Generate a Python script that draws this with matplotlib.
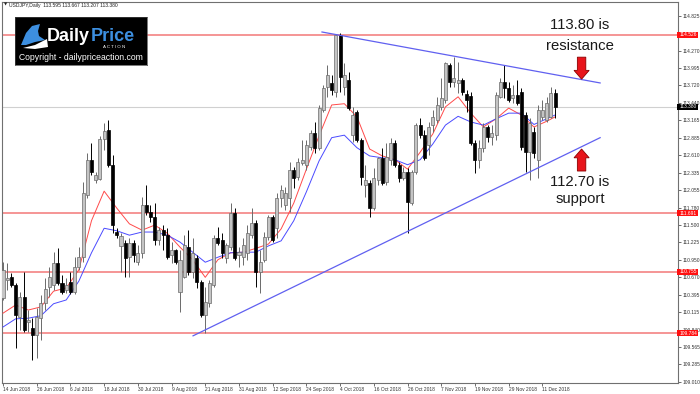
import matplotlib
matplotlib.use("Agg")
import matplotlib.pyplot as plt
from matplotlib.patches import FancyArrow, Rectangle, Polygon

plt.rcParams['font.family'] = ['Liberation Sans', 'DejaVu Sans']

# -----------------------------
# Daily USDJPY candles (14 Jun 2018 - 14 Dec 2018)
# -----------------------------
opens = [110.34, 110.63, 110.68, 110.55, 110.04, 110.36, 109.96, 109.86, 109.75, 110.02,
         110.26, 110.51, 110.55, 110.90, 110.58, 110.47, 110.60, 110.44, 110.83, 110.99,
         111.98, 112.53, 112.22, 112.24, 112.87, 113.01, 112.46, 111.39, 111.17, 111.22,
         110.99, 111.22, 110.91, 111.06, 111.82, 111.71, 111.63, 111.26, 111.42, 111.34,
         111.03, 111.10, 110.44, 110.67, 111.15, 110.76, 110.98, 110.60, 110.07, 110.26,
         110.55, 111.30, 111.26, 110.98, 111.15, 111.69, 111.03, 110.99, 111.06, 111.34,
         111.53, 110.76, 110.95, 111.31, 111.63, 111.45, 111.93, 111.82, 111.93, 112.38,
         112.27, 112.49, 112.46, 112.74, 112.96, 112.72, 113.33, 113.70, 113.76, 113.62,
         114.52, 113.70, 113.81, 112.93, 113.30, 112.85, 112.14, 112.17, 111.77, 112.22,
         112.57, 112.19, 112.54, 112.81, 112.46, 112.25, 112.34, 111.85, 112.34, 113.09,
         112.93, 112.77, 113.09, 113.17, 113.38, 113.49, 114.05, 113.78, 113.76, 113.81,
         113.58, 113.55, 112.81, 112.54, 112.73, 113.06, 112.90, 112.93, 113.54, 113.78,
         113.68, 113.52, 113.57, 113.62, 113.25, 112.66, 112.98, 112.54, 113.22, 113.17,
         113.22, 113.595]
highs = [110.91, 110.90, 110.74, 110.58, 110.44, 110.76, 110.15, 110.02, 110.18, 110.39,
         110.66, 110.83, 111.07, 111.13, 110.71, 110.66, 110.76, 110.99, 111.15, 112.18,
         112.64, 112.81, 112.35, 112.92, 113.13, 113.17, 112.62, 111.45, 111.37, 111.26,
         111.30, 111.26, 111.18, 111.95, 112.14, 111.82, 111.85, 111.47, 111.50, 111.45,
         111.23, 111.12, 111.10, 111.34, 111.42, 111.30, 111.03, 110.63, 110.52, 110.63,
         111.34, 111.47, 111.37, 111.22, 111.85, 111.77, 111.15, 111.30, 111.50, 111.77,
         111.58, 111.10, 111.39, 111.66, 111.66, 112.01, 112.14, 112.11, 112.50, 112.42,
         112.57, 112.85, 112.85, 113.01, 113.14, 113.41, 113.73, 114.05, 113.89, 114.54,
         114.55, 114.08, 113.94, 113.38, 113.33, 112.88, 112.46, 112.22, 112.41, 112.58,
         112.73, 112.81, 112.88, 112.85, 112.50, 112.42, 112.41, 112.38, 113.12, 113.20,
         113.01, 113.14, 113.33, 113.54, 113.84, 114.09, 114.08, 114.17, 114.09, 113.84,
         113.65, 113.62, 112.85, 112.85, 113.12, 113.09, 113.09, 113.62, 113.84, 114.05,
         113.78, 113.73, 113.81, 113.68, 113.30, 113.20, 113.06, 113.41, 113.49, 113.54,
         113.70, 113.667]
lows = [110.31, 110.47, 110.52, 109.55, 109.83, 109.80, 109.80, 109.36, 109.39, 109.67,
        110.15, 110.36, 110.47, 110.55, 110.41, 110.42, 110.41, 110.41, 110.79, 110.91,
        111.93, 112.30, 112.17, 112.22, 112.70, 112.43, 111.37, 111.30, 110.75, 110.67,
        110.67, 110.91, 110.86, 110.98, 111.66, 111.55, 111.18, 111.18, 111.10, 110.96,
        110.90, 110.88, 110.12, 110.66, 110.71, 110.66, 110.50, 110.04, 109.78, 110.20,
        110.52, 111.18, 110.98, 110.90, 111.10, 110.95, 110.83, 110.86, 110.95, 111.30,
        110.52, 110.42, 110.91, 111.26, 111.23, 111.30, 111.79, 111.74, 111.71, 112.09,
        112.22, 112.46, 112.38, 112.70, 112.64, 112.70, 113.30, 113.54, 113.57, 113.54,
        113.62, 113.57, 113.33, 112.82, 112.82, 112.14, 111.95, 111.63, 111.74, 112.14,
        112.14, 112.14, 112.46, 112.43, 112.19, 112.22, 111.37, 111.82, 112.31, 112.88,
        112.54, 112.62, 112.98, 113.12, 113.33, 113.44, 113.70, 113.70, 113.60, 113.57,
        113.30, 112.77, 112.33, 112.41, 112.66, 112.82, 112.77, 112.85, 113.52, 113.52,
        113.46, 113.44, 113.41, 112.70, 112.34, 112.22, 112.57, 112.25, 113.17, 113.14,
        113.20, 113.207]
closes = [110.79, 110.66, 110.55, 110.07, 110.36, 109.83, 109.99, 109.75, 110.04, 110.26,
          110.49, 110.68, 110.90, 110.58, 110.44, 110.55, 110.44, 110.83, 110.99, 112.01,
          112.53, 112.34, 112.30, 112.87, 113.00, 112.46, 111.50, 111.34, 111.33, 110.98,
          111.22, 111.03, 111.06, 111.82, 111.71, 111.63, 111.26, 111.42, 111.34, 110.99,
          111.10, 110.91, 110.95, 111.18, 110.76, 111.06, 110.60, 110.07, 110.28, 110.58,
          111.30, 111.22, 111.06, 111.18, 111.69, 110.98, 111.07, 111.18, 111.37, 111.53,
          110.76, 110.91, 111.31, 111.63, 111.26, 111.93, 112.06, 112.01, 112.38, 112.25,
          112.50, 112.54, 112.77, 112.96, 112.72, 113.36, 113.68, 113.89, 113.65, 114.52,
          113.86, 113.89, 113.36, 113.25, 112.85, 112.27, 112.22, 111.77, 112.25, 112.57,
          112.17, 112.58, 112.81, 112.46, 112.25, 112.34, 111.87, 112.34, 113.09, 112.93,
          112.57, 113.06, 113.22, 113.41, 113.52, 114.08, 113.78, 113.84, 113.81, 113.62,
          113.49, 112.81, 112.54, 112.73, 113.06, 112.90, 112.96, 113.57, 113.78, 113.68,
          113.49, 113.57, 113.44, 112.74, 112.66, 113.12, 112.65, 113.33, 113.33, 113.44,
          113.60, 113.380]

# moving averages, read every third bar
ma_bars = list(range(0, 130, 3)) + [131]
ma_red = [110.10, 110.23, 110.15, 110.20, 110.45, 110.50, 110.79, 111.57, 112.04, 111.77,
          111.52, 111.42, 111.50, 111.37, 111.15, 110.95, 110.67, 110.95, 111.06, 111.07,
          111.13, 111.20, 111.44, 111.85, 112.39, 112.92, 113.41, 113.43, 113.22, 112.71,
          112.60, 112.54, 112.39, 112.66, 112.95, 113.38, 113.54, 113.28, 113.06, 113.19,
          113.36, 113.25, 113.06, 113.15, 113.22]
ma_blue = [109.88, 110.01, 110.02, 110.06, 110.25, 110.31, 110.61, 111.06, 111.45, 111.41,
           111.34, 111.39, 111.39, 111.34, 111.23, 111.07, 110.91, 110.99, 111.06, 111.07,
           111.07, 111.17, 111.25, 111.57, 112.03, 112.52, 112.89, 112.93, 112.73, 112.60,
           112.57, 112.54, 112.46, 112.54, 112.79, 113.09, 113.23, 113.14, 113.09, 113.19,
           113.28, 113.28, 113.10, 113.19, 113.25]

# trend lines (bar position, price)
resist_bars = [75.7, 141.7]
resist_prices = [114.57, 113.76]
support_bars = [45.1, 141.7]
support_prices = [109.74, 112.89]

# horizontal levels
red_levels = [114.526, 111.691, 110.755, 109.784]
last_price = 113.380

price_ticks = [114.825, 114.270, 113.995, 113.720, 113.440, 113.165, 112.885,
               112.610, 112.335, 112.055, 111.780, 111.500, 111.225, 110.950, 110.670,
               110.395, 110.115, 109.840, 109.565, 109.285, 109.010]
date_labels = ["14 Jun 2018", "26 Jun 2018", "6 Jul 2018", "18 Jul 2018", "30 Jul 2018",
               "9 Aug 2018", "21 Aug 2018", "31 Aug 2018", "12 Sep 2018", "24 Sep 2018",
               "4 Oct 2018", "16 Oct 2018", "26 Oct 2018", "7 Nov 2018", "19 Nov 2018",
               "29 Nov 2018", "11 Dec 2018"]
date_every = 8

# -----------------------------
# Plot
# -----------------------------
W, H = 700, 394
fig = plt.figure(figsize=(W / 100, H / 100), dpi=100)
ax = fig.add_axes([2 / W, 11 / H, 676 / W, 381 / H])

ax.set_xlim(-0.237, 160.18)
ax.set_ylim(108.99, 115.047)

for lv in red_levels:
    ax.axhline(lv, color='#f06060', lw=1.1, alpha=0.85, zorder=1)
ax.axhline(last_price, color='#d0d0d0', lw=0.8, zorder=1)

ax.plot(ma_bars, ma_red, color='#ff4a4a', lw=0.7, zorder=3)
ax.plot(ma_bars, ma_blue, color='#4a4aff', lw=0.7, zorder=3)

for i in range(len(opens)):
    o, h, l, c = opens[i], highs[i], lows[i], closes[i]
    if c >= o:
        fc, ec = '#c4c4c4', '#6a6a6a'
    else:
        fc, ec = '#000000', '#000000'
    ax.vlines(i, l, h, color=ec, lw=0.7, zorder=4)
    ax.bar(i, max(abs(c - o), 0.015), bottom=min(o, c), width=0.72,
           color=fc, edgecolor=ec, linewidth=0.5, zorder=5)

ax.plot(resist_bars, resist_prices, color='#6060f0', lw=0.9, zorder=6)
ax.plot(support_bars, support_prices, color='#6060f0', lw=0.9, zorder=6)

# arrows
for y0, dy in [(114.17, -0.35), (112.36, 0.35)]:
    ax.add_patch(FancyArrow(137.3, y0, 0, dy, width=2.0, head_width=3.6,
                            head_length=0.14, length_includes_head=True,
                            fc='#e8141b', ec='#8b0000', lw=0.6, zorder=8))

txt = dict(fontsize=10.7, color='#1a1a1a', ha='center', va='center', zorder=9)
ax.text(136.9, 114.68, "113.80 is", **txt)
ax.text(136.9, 114.35, "resistance", **txt)
ax.text(136.9, 112.19, "112.70 is", **txt)
ax.text(136.9, 111.91, "support", **txt)

# axes look
for s in ax.spines.values():
    s.set_color('#707070')
    s.set_linewidth(0.8)
ax.yaxis.tick_right()
ax.set_yticks(price_ticks)
ax.set_yticklabels([f"{p:.3f}" for p in price_ticks])
ax.tick_params(axis='y', labelsize=3.5, length=2, width=0.5, pad=1, colors='#333333')
ax.set_xticks(range(0, len(date_labels) * date_every, date_every))
ax.set_xticklabels(date_labels, ha='left')
ax.tick_params(axis='x', labelsize=3.5, length=2, width=0.5, pad=1, colors='#333333')

# price boxes on the right
ytr = ax.get_yaxis_transform()
for lv, col in [(l, '#ff1010') for l in red_levels] + [(last_price, '#000000')]:
    ax.add_patch(Rectangle((0.999, lv - 0.05), 0.031, 0.1, transform=ytr,
                           fc=col, ec='none', clip_on=False, zorder=10))
    ax.text(1.003, lv, f"{lv:.3f}", transform=ytr, fontsize=3.5, color='white',
            ha='left', va='center', clip_on=False, zorder=11)

# header
fig.text(4 / W, 1 - 5 / H, "\u25bc", fontsize=3, color='#222222', va='center',
         family=['DejaVu Sans'])
fig.text(9 / W, 1 - 5 / H, "USDJPY,Daily  113.595 113.667 113.207 113.380",
         fontsize=3.6, color='#222222', va='center')

# logo
lg = fig.add_axes([15 / W, 1 - 65 / H, 132 / W, 48 / H])
lg.set_xlim(0, 132)
lg.set_ylim(48, 0)
lg.set_facecolor('black')
lg.set_xticks([])
lg.set_yticks([])
for s in lg.spines.values():
    s.set_color('#444444')
    s.set_linewidth(0.5)
lg.add_patch(Polygon([(6, 28), (11, 16), (17, 9), (25, 7), (23, 14), (24, 19),
                      (30, 23), (20, 25), (11, 28)], closed=True, fc='#3d8fe0', ec='none'))
lg.add_patch(Polygon([(8, 31), (20, 28), (32, 22), (33, 30), (20, 32)], closed=True,
                     fc='white', ec='none'))
lg.text(32, 24, "Daily", fontsize=13, fontweight='bold', color='white', va='baseline')
lg.text(75.5, 24, "Price", fontsize=13, fontweight='bold', color='#3d8fe0', va='baseline')
lg.text(99, 29.5, "A C T I O N", fontsize=3.2, color='white', ha='center', va='center')
lg.text(66, 41, "Copyright - dailypriceaction.com", fontsize=6.2, color='white',
        ha='center', va='center')

fig.savefig("out.png", dpi=100)
